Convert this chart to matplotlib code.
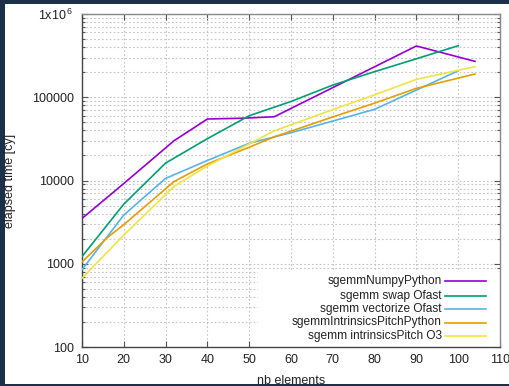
import matplotlib
matplotlib.use("Agg")
import matplotlib.pyplot as plt
from matplotlib.patches import Rectangle
from matplotlib.ticker import FixedLocator, FixedFormatter, LogLocator, NullFormatter

plt.rcParams['font.family'] = ['Liberation Sans', 'DejaVu Sans']
plt.rcParams['mathtext.default'] = 'regular'

# ---- data ----
labels = ["sgemmNumpyPython", "sgemm swap Ofast", "sgemm vectorize Ofast",
          "sgemmIntrinsicsPitchPython", "sgemm intrinsicsPitch O3"]
colors = ["#9400d3", "#009e73", "#56b4e9", "#e69f00", "#f0e442"]

x_numpy = [10, 20, 32, 40, 48, 56, 90, 104]
y_numpy = [3500, 9200, 30000, 54800, 55900, 58300, 413000, 270000]

x_swap = [10, 20, 30, 40, 50, 60, 70, 80, 90, 100]
y_swap = [1220, 5200, 16200, 31800, 60000, 89000, 140000, 203000, 290000, 416000]

x_vec = [10, 20, 30, 40, 50, 60, 70, 80, 90, 100]
y_vec = [850, 3850, 10600, 17400, 28000, 37500, 51800, 71600, 122000, 208000]

x_intr = [10, 16, 20, 32, 40, 50, 56, 70, 80, 90, 104]
y_intr = [1050, 2050, 2950, 9700, 15800, 25100, 33500, 58000, 85000, 128000, 190000]

x_o3 = [10, 20, 32, 40, 50, 56, 70, 80, 90, 104]
y_o3 = [670, 2210, 8500, 14900, 27500, 39500, 71000, 107000, 164000, 233000]

xticks = [10, 20, 30, 40, 50, 60, 70, 80, 90, 100, 110]
yticks = [100, 1000, 10000, 100000, 1000000]
ytick_labels = ["100", "1000", "10000", "100000", "1x10$^{\\,6}$"]

series = [(x_numpy, y_numpy), (x_swap, y_swap), (x_vec, y_vec),
          (x_intr, y_intr), (x_o3, y_o3)]

W, H = 510, 386
fig = plt.figure(figsize=(W / 100, H / 100), dpi=100)
fig.patch.set_facecolor("#1d3049")
fig.patches.append(Rectangle((5 / W, 2 / H), 1 - 5 / W, (H - 6) / H,
                             transform=fig.transFigure, facecolor="white",
                             edgecolor="none", zorder=-10))

L, R, T, B = 82, 500, 14, 347
ax = fig.add_axes([L / W, (H - B) / H, (R - L) / W, (B - T) / H])
ax.set_facecolor("white")
ax.set_yscale("log")
ax.set_xlim(10, 110)
ax.set_ylim(100, 1e6)

for (xs, ys), c in zip(series, colors):
    ax.plot(xs, ys, color=c, lw=1.2, zorder=3, solid_joinstyle="miter")

ax.xaxis.set_major_locator(FixedLocator(xticks))
ax.set_xticklabels([str(v) for v in xticks])
ax.yaxis.set_major_locator(FixedLocator(yticks))
ax.yaxis.set_major_formatter(FixedFormatter(ytick_labels))
ax.yaxis.set_minor_locator(LogLocator(base=10, subs=range(2, 10)))
ax.yaxis.set_minor_formatter(NullFormatter())

ax.set_axisbelow(True)
ax.grid(True, which="major", axis="both", color="#c4c4c4", lw=0.8, ls=(0, (1.5, 2)))
ax.grid(True, which="minor", axis="y", color="#c4c4c4", lw=0.8, ls=(0, (1.5, 2)))

ax.tick_params(which="both", direction="in", top=True, right=True,
               color="#555555", labelsize=9, labelcolor="#222222")
ax.tick_params(which="major", length=4.5, width=0.8)
ax.tick_params(which="minor", length=2.5, width=0.8)
ax.tick_params(axis="x", pad=5)
ax.tick_params(axis="y", pad=6)

for s in ["left", "bottom"]:
    ax.spines[s].set_color("#444444")
    ax.spines[s].set_linewidth(1.0)
for s in ["top", "right"]:
    ax.spines[s].set_color("#888888")
    ax.spines[s].set_linewidth(1.0)

# opaque key box
def axfx(px):
    return (px - L) / (R - L)

def axfy(py):
    return (B - py) / (B - T)

ax.add_patch(Rectangle((axfx(258), 0), 1 - axfx(258), axfy(272),
                       transform=ax.transAxes, facecolor="white",
                       edgecolor="none", zorder=1))
rows = [281, 295.5, 309, 322.5, 336]
for lab, c, ry in zip(labels, colors, rows):
    ax.text(axfx(442), axfy(ry), lab, transform=ax.transAxes, ha="right",
            va="center", fontsize=8.6, color="#222222", zorder=4)
    ax.plot([axfx(445), axfx(486)], [axfy(ry), axfy(ry)], transform=ax.transAxes,
            color=c, lw=1.2, zorder=4, clip_on=False)

fig.text(10 / W, (H - 181) / H, "elapsed time [cy]", rotation=90, ha="center",
         va="center", fontsize=9, color="#222222")
fig.text(291 / W, 1.5 / H, "nb elements", ha="center", va="baseline",
         fontsize=9, color="#222222")

# dark frame strip at the bottom
fig.patches.append(Rectangle((0, 0), 1, 2 / H, transform=fig.transFigure,
                             facecolor="#1d3049", edgecolor="none", zorder=10))

fig.savefig("out.png", dpi=100, facecolor=fig.get_facecolor())
